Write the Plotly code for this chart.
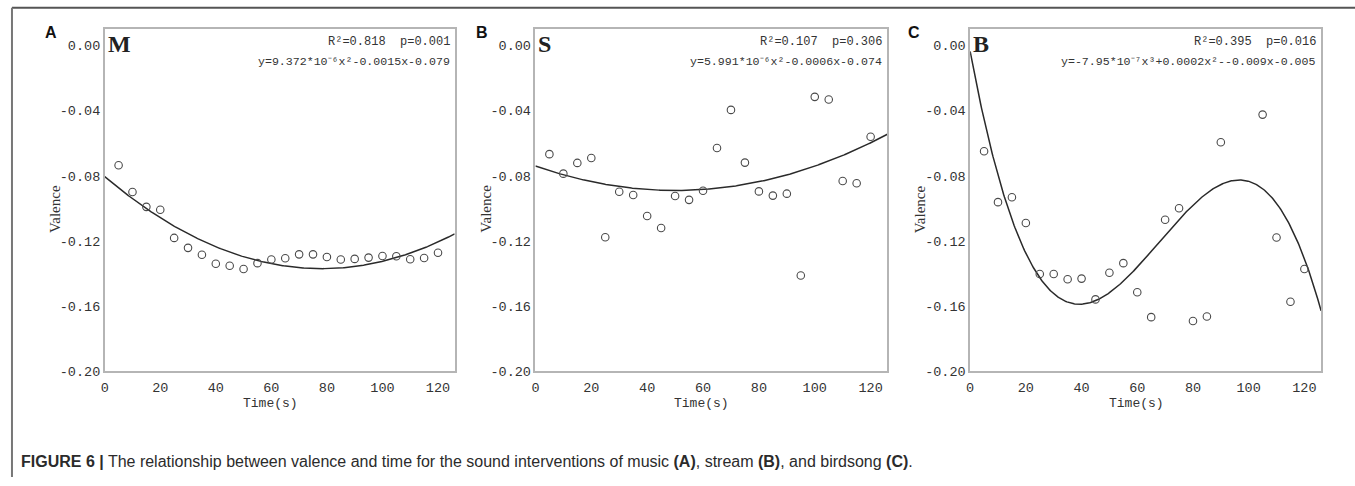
import numpy as np
import plotly.graph_objects as go

# ---------------- data ----------------
time_a = [5, 10, 15, 20, 25, 30, 35, 40, 45, 50, 55, 60, 65, 70, 75, 80, 85, 90, 95, 100, 105, 110, 115, 120]
valence_a = [-0.0735, -0.0900, -0.0991, -0.1009, -0.1182, -0.1243, -0.1285, -0.1341, -0.1353, -0.1373,
             -0.1337, -0.1315, -0.1307, -0.1283, -0.1283, -0.1299, -0.1315, -0.1311, -0.1303, -0.1293,
             -0.1295, -0.1313, -0.1305, -0.1273]

time_b = [5, 10, 15, 20, 25, 30, 35, 40, 45, 50, 55, 60, 65, 70, 75, 80, 85, 90, 95, 100, 105, 110, 115, 120]
valence_b = [-0.0667, -0.0787, -0.0721, -0.0691, -0.1178, -0.0898, -0.0918, -0.1047, -0.1121, -0.0924,
             -0.0948, -0.0892, -0.0629, -0.0395, -0.0719, -0.0896, -0.0922, -0.0910, -0.1413, -0.0315,
             -0.0331, -0.0832, -0.0846, -0.0560]

time_c = [5, 10, 15, 20, 25, 30, 35, 40, 45, 50, 55, 60, 65, 70, 75, 80, 85, 90, 105, 110, 115, 120]
valence_c = [-0.0649, -0.0962, -0.0932, -0.1090, -0.1404, -0.1404, -0.1436, -0.1432, -0.1560, -0.1396,
             -0.1337, -0.1516, -0.1669, -0.1070, -0.1000, -0.1693, -0.1665, -0.0594, -0.0424, -0.1179,
             -0.1574, -0.1373]

# fitted-curve polynomial coefficients (highest power first)
fit_coef_a = [9.29e-6, -0.00145, -0.0805]
fit_coef_b = [5.991e-6, -0.0006, -0.074]
fit_coef_c = [-8.07e-7, 1.644e-4, -0.009168, -0.0036]

panel_letters = ["A", "B", "C"]
panel_codes = ["M", "S", "B"]
stats_lines = ["R²=0.818  p=0.001", "R²=0.107  p=0.306", "R²=0.395  p=0.016"]
equation_lines = ["y=9.372*10⁻⁶x²-0.0015x-0.079",
                  "y=5.991*10⁻⁶x²-0.0006x-0.074",
                  "y=-7.95*10⁻⁷x³+0.0002x²--0.009x-0.005"]
y_tick_vals = [0.0, -0.04, -0.08, -0.12, -0.16, -0.20]
y_tick_text = ["0.00", "-0.04", "-0.08", "-0.12", "-0.16", "-0.20"]
x_tick_vals = [0, 20, 40, 60, 80, 100, 120]
x_tick_text = ["0", "20", "40", "60", "80", "100", "120"]
caption = ("<b>FIGURE 6 |</b> The relationship between valence and time for the sound interventions of "
           "music <b>(A)</b>, stream <b>(B)</b>, and birdsong <b>(C)</b>.")

# ---------------- layout geometry ----------------
W, H = 1355, 486
panel_px = [(101, 452), (533, 886), (969, 1321)]
top_px, bottom_px = 30, 378
X_RANGE = [0, 126]
Y_RANGE = [-0.2, 0.00995]

MONO = "Liberation Mono"
SERIF = "Liberation Serif"
SANS = "Liberation Sans"


def fx(px):
    return px / W


def fy(py):
    return 1 - py / H


fig = go.Figure()
series = [(time_a, valence_a, fit_coef_a), (time_b, valence_b, fit_coef_b), (time_c, valence_c, fit_coef_c)]

for i, (t, v, coef) in enumerate(series):
    n = "" if i == 0 else str(i + 1)
    xa, ya = "x" + n, "y" + n
    xs = np.linspace(X_RANGE[0], X_RANGE[1], 400)
    fig.add_trace(go.Scatter(x=xs, y=np.polyval(coef, xs), mode="lines",
                             line=dict(color="#2a2a2a", width=1.5),
                             xaxis=xa, yaxis=ya, showlegend=False, hoverinfo="skip"))
    fig.add_trace(go.Scatter(x=t, y=v, mode="markers",
                             marker=dict(symbol="circle-open", size=7.5, color="#4a4a4a",
                                         line=dict(width=1.1, color="#4a4a4a")),
                             xaxis=xa, yaxis=ya, showlegend=False))
    l, r = panel_px[i]
    axis_common = dict(showline=True, mirror=True, linecolor="#b5b5b5", linewidth=1.5,
                       showgrid=False, zeroline=False, ticks="",
                       tickfont=dict(family=MONO, size=13.5, color="#333"))
    fig.layout["xaxis" + n] = dict(axis_common, domain=[fx(l), fx(r)], range=X_RANGE,
                                   anchor=ya, tickvals=x_tick_vals, ticktext=x_tick_text,
                                   ticklabelstandoff=3)
    fig.layout["yaxis" + n] = dict(axis_common, domain=[fy(bottom_px), fy(top_px)], range=Y_RANGE,
                                   anchor=xa, tickvals=y_tick_vals, ticktext=y_tick_text)

    # panel letters and labels
    lx = [47.5, 479.5, 912.5][i]
    fig.add_annotation(x=fx(lx), y=fy(33.5), xref="paper", yref="paper", text="<b>%s</b>" % panel_letters[i],
                       showarrow=False, xanchor="center", yanchor="middle",
                       font=dict(family=SANS, size=16, color="#111"))
    fig.add_annotation(x=fx(l + 1), y=fy(45), xref="paper", yref="paper", text="<b>%s</b>" % panel_codes[i],
                       showarrow=False, xanchor="left", yanchor="middle",
                       font=dict(family=SERIF, size=24, color="#222"))
    fig.add_annotation(x=fx(r - 3), y=fy(43), xref="paper", yref="paper", text=stats_lines[i],
                       showarrow=False, xanchor="right", yanchor="middle",
                       font=dict(family=MONO, size=12, color="#333"))
    fig.add_annotation(x=fx(r - 3), y=fy(63), xref="paper", yref="paper", text=equation_lines[i],
                       showarrow=False, xanchor="right", yanchor="middle",
                       font=dict(family=MONO, size=11.6, color="#333"))
    # axis titles
    fig.add_annotation(x=fx(l - 50), y=fy(213), xref="paper", yref="paper", text="Valence",
                       textangle=-90, showarrow=False, xanchor="center", yanchor="middle",
                       font=dict(family=SERIF, size=15, color="#333"))
    fig.add_annotation(x=fx((l + r) / 2 - 9.5), y=fy(411), xref="paper", yref="paper", text="Time(s)",
                       showarrow=False, xanchor="center", yanchor="middle",
                       font=dict(family=MONO, size=13, color="#333"))

# caption
fig.add_annotation(x=fx(15), y=fy(470.5), xref="paper", yref="paper", text=caption,
                   showarrow=False, xanchor="left", yanchor="middle",
                   font=dict(family=SANS, size=16, color="#2b2b2b"))

# outer frame lines
fig.add_shape(type="line", xref="paper", yref="paper", x0=fx(8), x1=1, y0=fy(8), y1=fy(8),
              line=dict(color="#555", width=2))
fig.add_shape(type="line", xref="paper", yref="paper", x0=fx(8), x1=fx(8), y0=fy(8), y1=0,
              line=dict(color="#777", width=2))

fig.update_layout(width=W, height=H, margin=dict(l=0, r=0, t=0, b=0),
                  paper_bgcolor="white", plot_bgcolor="white", showlegend=False)

fig.write_html("out.html")
